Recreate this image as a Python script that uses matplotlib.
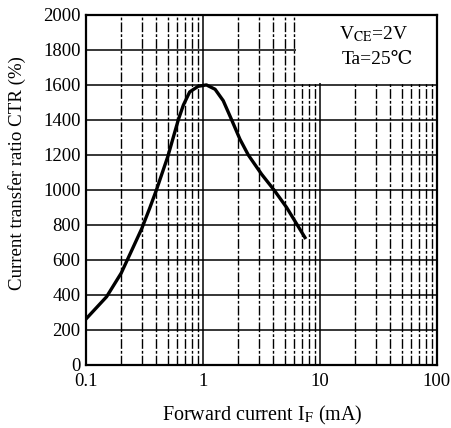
import numpy as np
import matplotlib.pyplot as plt
from matplotlib.ticker import FixedLocator, NullFormatter
from matplotlib.patches import Rectangle

# CTR vs forward current
forward_current = [0.1, 0.15, 0.2, 0.25, 0.3, 0.35, 0.4, 0.5, 0.615, 0.68, 0.77,
                   0.91, 1.07, 1.27, 1.49, 1.76, 2.07, 2.44, 3.17, 4.05, 5.19, 7.45]
ctr = [263, 390, 525, 665, 780, 895, 1000, 1190, 1400, 1485, 1560,
       1592, 1600, 1575, 1510, 1400, 1290, 1200, 1090, 1000, 900, 728]

y_ticks = list(range(0, 2001, 200))
x_ticks = [0.1, 1, 10, 100]
x_tick_labels = ['0.1', '1', '10', '100']

plt.rcParams['font.family'] = ['Liberation Serif', 'DejaVu Serif', 'Noto Sans CJK JP']
plt.rcParams['mathtext.fontset'] = 'stix'

fig = plt.figure(figsize=(4.51, 4.28), dpi=100)
ax = fig.add_axes([0.1907, 0.1472, 0.778, 0.818])

ax.set_xscale('log')
ax.set_xlim(0.1, 100)
ax.set_ylim(0, 2000)

ax.set_xticks(x_ticks)
ax.set_xticklabels(x_tick_labels)
minor = [m * d for d in (0.1, 1, 10) for m in range(2, 10)]
ax.xaxis.set_minor_locator(FixedLocator(minor))
ax.xaxis.set_minor_formatter(NullFormatter())
ax.set_yticks(y_ticks)

ax.grid(True, which='major', axis='y', color='black', linewidth=1.1)
ax.grid(True, which='major', axis='x', color='black', linewidth=1.1)
ax.grid(True, which='minor', axis='x', color='black', linewidth=1.0,
        linestyle=(0, (7, 1.5, 2, 1.5)))
ax.set_axisbelow(True)

# blank area behind the condition text
ax.add_patch(Rectangle((6.3, 1610), 100 - 6.3, 385, transform=ax.transData,
                       facecolor='white', edgecolor='none', zorder=1))

ax.plot(forward_current, ctr, color='black', linewidth=2.4, zorder=3,
        solid_joinstyle='round')

for s in ax.spines.values():
    s.set_linewidth(1.6)

ax.tick_params(which='both', length=0, labelsize=13.5)
ax.tick_params(axis='x', pad=6)
ax.tick_params(axis='y', pad=4)

ax.text(0.82, 0.945, r'V$_{\mathrm{CE}}$=2V', transform=ax.transAxes,
        ha='center', va='center', fontsize=14)
ax.text(0.83, 0.872, 'Ta=25\u2103', transform=ax.transAxes,
        ha='center', va='center', fontsize=14)

ax.set_xlabel(r'Forward current I$_{\mathrm{F}}$ (mA)', fontsize=14.5)
ax.xaxis.set_label_coords(0.502, -0.112)
ax.set_ylabel('Current transfer ratio CTR (%)', fontsize=13.6)
ax.yaxis.set_label_coords(-0.172, 0.547)

fig.text(0.42, 1 - 4 / 428, 'vs. Forward Current', ha='center', va='bottom',
         fontsize=13)

fig.savefig('out.png', dpi=100)
